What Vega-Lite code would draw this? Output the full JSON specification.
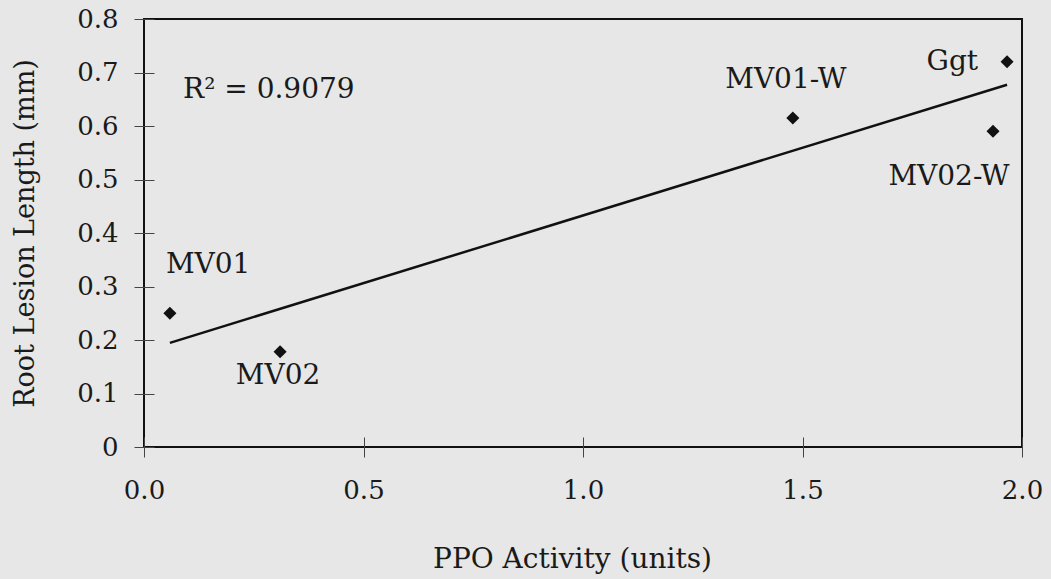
{
  "$schema": "https://vega.github.io/schema/vega-lite/v6.json",
  "width": 878,
  "height": 428,
  "autosize": {"type": "none"},
  "padding": {"left": 144, "top": 19, "right": 29, "bottom": 132},
  "background": "#e7e7e7",
  "config": {
    "view": {"stroke": "#111111", "strokeWidth": 2},
    "font": "DejaVu Serif",
    "text": {"font": "DejaVu Serif", "fontSize": 28, "color": "#1a1a1a"}
  },
  "datasets": {
    "cultivars": [
      {"ppo": 0.059, "lesion": 0.25, "line": "MV01"},
      {"ppo": 0.31, "lesion": 0.178, "line": "MV02"},
      {"ppo": 1.478, "lesion": 0.615, "line": "MV01-W"},
      {"ppo": 1.934, "lesion": 0.59, "line": "MV02-W"},
      {"ppo": 1.966, "lesion": 0.72, "line": "Ggt"}
    ],
    "annotation": [
      {"ppo": 0.089, "lesion": 0.668, "label": "R² = 0.9079"}
    ]
  },
  "data": {"name": "cultivars"},
  "encoding": {
    "x": {
      "field": "ppo",
      "type": "quantitative",
      "scale": {"domain": [0, 2], "nice": false, "zero": false},
      "axis": {
        "title": "PPO Activity (units)",
        "values": [0, 0.5, 1, 1.5, 2],
        "format": ".1f",
        "offset": -10,
        "tickSize": 20,
        "tickColor": "#444444",
        "tickWidth": 1,
        "domain": false,
        "grid": false,
        "labelFlush": false,
        "labelFont": "DejaVu Serif",
        "labelFontSize": 26,
        "labelColor": "#1a1a1a",
        "labelPadding": 20,
        "titleFont": "DejaVu Serif",
        "titleFontSize": 28,
        "titleFontWeight": "normal",
        "titleColor": "#1a1a1a",
        "titlePadding": 42,
        "titleX": 428
      }
    },
    "y": {
      "field": "lesion",
      "type": "quantitative",
      "scale": {"domain": [0, 0.8], "nice": false, "zero": false},
      "axis": {
        "title": "Root Lesion Length (mm)",
        "values": [0, 0.1, 0.2, 0.3, 0.4, 0.5, 0.6, 0.7, 0.8],
        "format": "~g",
        "offset": -10,
        "tickSize": 20,
        "tickColor": "#444444",
        "tickWidth": 1,
        "domain": false,
        "grid": false,
        "labelFlush": false,
        "labelFont": "DejaVu Serif",
        "labelFontSize": 26,
        "labelColor": "#1a1a1a",
        "labelPadding": 16,
        "titleFont": "DejaVu Serif",
        "titleFontSize": 27,
        "titleFontWeight": "normal",
        "titleColor": "#1a1a1a",
        "titlePadding": 37
      }
    }
  },
  "layer": [
    {
      "transform": [{"regression": "lesion", "on": "ppo"}],
      "mark": {"type": "line", "color": "#111111", "strokeWidth": 2.5}
    },
    {
      "mark": {"type": "point", "shape": "diamond", "filled": true, "color": "#111111", "size": 170, "opacity": 1}
    },
    {
      "transform": [{"filter": "datum.line === 'MV01'"}],
      "mark": {"type": "text", "align": "left", "baseline": "middle", "dx": -4, "dy": -48},
      "encoding": {"text": {"field": "line"}}
    },
    {
      "transform": [{"filter": "datum.line === 'MV02'"}],
      "mark": {"type": "text", "align": "center", "baseline": "middle", "dx": -2, "dy": 24},
      "encoding": {"text": {"field": "line"}}
    },
    {
      "transform": [{"filter": "datum.line === 'MV01-W'"}],
      "mark": {"type": "text", "align": "center", "baseline": "middle", "dx": -7, "dy": -38},
      "encoding": {"text": {"field": "line"}}
    },
    {
      "transform": [{"filter": "datum.line === 'Ggt'"}],
      "mark": {"type": "text", "align": "right", "baseline": "middle", "dx": -29, "dy": 0},
      "encoding": {"text": {"field": "line"}}
    },
    {
      "transform": [{"filter": "datum.line === 'MV02-W'"}],
      "mark": {"type": "text", "align": "center", "baseline": "middle", "dx": -44, "dy": 46},
      "encoding": {"text": {"field": "line"}}
    },
    {
      "data": {"name": "annotation"},
      "mark": {"type": "text", "align": "left", "baseline": "middle"},
      "encoding": {
        "text": {"field": "label"}
      }
    }
  ]
}
